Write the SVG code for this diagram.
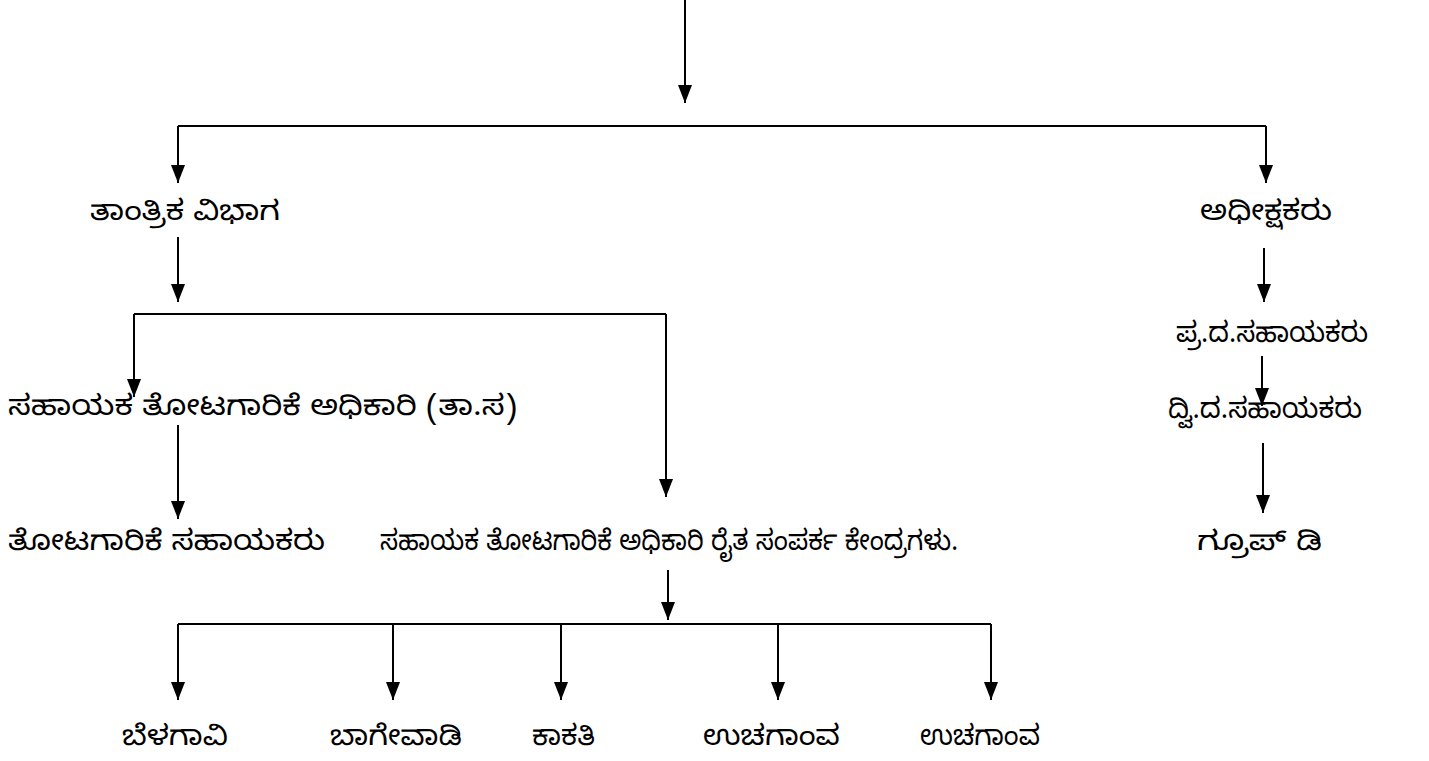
<svg xmlns="http://www.w3.org/2000/svg" width="1429" height="761" viewBox="0 0 1429 761">
<style>
.t{font-family:"Noto Sans Kannada","Noto Sans","Liberation Sans",sans-serif;font-size:28px;font-weight:400;fill:#000;dominant-baseline:central}
.c{fill:none;stroke:#000;stroke-width:2}
</style>
<defs>
<marker id="ah2" markerUnits="userSpaceOnUse" markerWidth="18" markerHeight="14" viewBox="0 0 18 14" refX="18" refY="7" orient="auto">
<path d="M0,0 L18,7 L0,14 Z" fill="#000"/>
</marker>
</defs>
<rect width="1429" height="761" fill="#fff"/>
<g id="connectors">
<path class="c" d="M685,0 V103" marker-end="url(#ah2)"/>
<path class="c" d="M178,126 H1266"/>
<path class="c" d="M178,126 V183" marker-end="url(#ah2)"/>
<path class="c" d="M1266,126 V183" marker-end="url(#ah2)"/>
<path class="c" d="M178,237 V302" marker-end="url(#ah2)"/>
<path class="c" d="M134,314 H666"/>
<path class="c" d="M134,314 V397" marker-end="url(#ah2)"/>
<path class="c" d="M666,314 V497" marker-end="url(#ah2)"/>
<path class="c" d="M178,425 V519" marker-end="url(#ah2)"/>
<path class="c" d="M668,570 V620" marker-end="url(#ah2)"/>
<path class="c" d="M178,624 H991"/>
<path class="c" d="M178,624 V700" marker-end="url(#ah2)"/>
<path class="c" d="M393,624 V700" marker-end="url(#ah2)"/>
<path class="c" d="M561,624 V700" marker-end="url(#ah2)"/>
<path class="c" d="M778,624 V700" marker-end="url(#ah2)"/>
<path class="c" d="M991,624 V700" marker-end="url(#ah2)"/>
<path class="c" d="M1264,248 V302" marker-end="url(#ah2)"/>
<path class="c" d="M1262,356 V406" marker-end="url(#ah2)"/>
<path class="c" d="M1263,443 V513" marker-end="url(#ah2)"/>
</g>
<g id="n-tantrika"><text class="t" x="90" y="216" textLength="190" lengthAdjust="spacingAndGlyphs">ತಾಂತ್ರಿಕ ವಿಭಾಗ</text></g>
<g id="n-adhikshakaru"><text class="t" x="1200" y="216" textLength="132" lengthAdjust="spacingAndGlyphs">ಅಧೀಕ್ಷಕರು</text></g>
<g id="n-sahayaka-ts"><text class="t" x="8" y="411" textLength="509" lengthAdjust="spacingAndGlyphs">ಸಹಾಯಕ ತೋಟಗಾರಿಕೆ ಅಧಿಕಾರಿ (ತಾ.ಸ)</text></g>
<g id="n-prada"><text class="t" x="1176" y="338" textLength="192" lengthAdjust="spacingAndGlyphs">ಪ್ರ.ದ.ಸಹಾಯಕರು</text></g>
<g id="n-dvida"><text class="t" x="1168" y="414" textLength="194" lengthAdjust="spacingAndGlyphs">ದ್ವಿ.ದ.ಸಹಾಯಕರು</text></g>
<g id="n-totagarike-sahayakaru"><text class="t" x="8" y="546" textLength="317" lengthAdjust="spacingAndGlyphs">ತೋಟಗಾರಿಕೆ ಸಹಾಯಕರು</text></g>
<g id="n-raita"><text class="t" x="380" y="546" textLength="578" lengthAdjust="spacingAndGlyphs">ಸಹಾಯಕ ತೋಟಗಾರಿಕೆ ಅಧಿಕಾರಿ ರೈತ ಸಂಪರ್ಕ ಕೇಂದ್ರಗಳು.</text></g>
<g id="n-group-d"><text class="t" x="1197" y="546" textLength="125" lengthAdjust="spacingAndGlyphs">ಗ್ರೂಪ್ ಡಿ</text></g>
<g id="n-belagavi"><text class="t" x="122" y="741" textLength="106" lengthAdjust="spacingAndGlyphs">ಬೆಳಗಾವಿ</text></g>
<g id="n-bagevadi"><text class="t" x="330" y="741" textLength="132" lengthAdjust="spacingAndGlyphs">ಬಾಗೇವಾಡಿ</text></g>
<g id="n-kakati"><text class="t" x="532" y="741" textLength="63" lengthAdjust="spacingAndGlyphs">ಕಾಕತಿ</text></g>
<g id="n-uchagaon1"><text class="t" x="703" y="741" textLength="137" lengthAdjust="spacingAndGlyphs">ಉಚಗಾಂವ</text></g>
<g id="n-uchagaon2"><text class="t" x="920" y="741" textLength="120" lengthAdjust="spacingAndGlyphs">ಉಚಗಾಂವ</text></g>
</svg>
